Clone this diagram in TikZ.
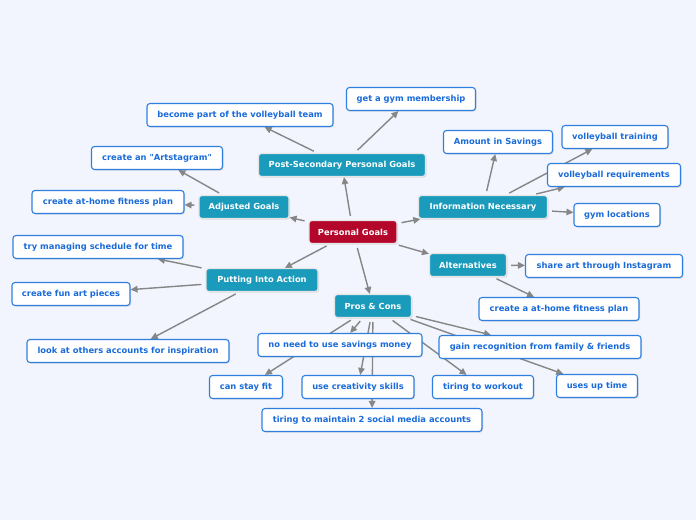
\documentclass[tikz,border=0pt]{standalone}
\usepackage{fontspec}
\newfontfamily\mfont{DejaVu Sans}
\usetikzlibrary{arrows.meta,shadows}
\pgfdeclarelayer{bg}
\pgfdeclarelayer{edges}
\pgfsetlayers{bg,edges,main}
\definecolor{bgc}{HTML}{F2F5FD}
\definecolor{mteal}{HTML}{1A9BBC}
\definecolor{mcrim}{HTML}{B4062B}
\definecolor{mblue}{HTML}{1A6BDA}
\definecolor{mborder}{HTML}{2F7FE0}
\definecolor{medge}{HTML}{868686}
\tikzset{
 base/.style={rounded corners=3pt, minimum height=23pt, inner sep=0pt,
   font=\mfont\bfseries\fontsize{8.35}{10}\selectfont, line width=1.1pt,
   drop shadow={shadow xshift=1pt, shadow yshift=-1.2pt, opacity=0.22}},
 leaf/.style={base, draw=mborder, fill=white, text=mblue},
 topic/.style={base, draw=white!80!gray, fill=mteal, text=white},
 rootnode/.style={base, draw=white!80!gray, fill=mcrim, text=white},
 link/.style={draw=medge, line width=1.4pt, -{Triangle[length=7pt,width=6.5pt]}, shorten <=4pt},
}
\begin{document}
\begin{tikzpicture}[x=1pt,y=-1pt]
\begin{pgfonlayer}{bg}
\fill[bgc] (0,0) rectangle (696,520);
\end{pgfonlayer}
% root and topics
\node[rootnode, minimum width=88pt] (pg) at (353,232) {Personal Goals};
\node[topic, minimum width=167pt] (ps) at (342,165) {Post-Secondary Personal Goals};
\node[topic, minimum width=90pt] (ag) at (244,207) {Adjusted Goals};
\node[topic, minimum width=112pt] (pia) at (262,280) {Putting Into Action};
\node[topic, minimum width=77pt] (pc) at (373,306) {Pros \& Cons};
\node[topic, minimum width=77pt] (alt) at (468,265) {Alternatives};
\node[topic, minimum width=129pt] (inf) at (483,207) {Information Necessary};
% leaves
\node[leaf, minimum width=186pt] (vbteam) at (240,115) {become part of the volleyball team};
\node[leaf, minimum width=129pt] (gym) at (411,99) {get a gym membership};
\node[leaf, minimum width=131pt] (artsta) at (157,158) {create an "Artstagram"};
\node[leaf, minimum width=152pt] (athome) at (108,202) {create at-home fitness plan};
\node[leaf, minimum width=170pt] (sched) at (98,247) {try managing schedule for time};
\node[leaf, minimum width=118pt] (funart) at (71,294) {create fun art pieces};
\node[leaf, minimum width=202pt] (look) at (128,351) {look at others accounts for inspiration};
\node[leaf, minimum width=164pt] (saving) at (340,345) {no need to use savings money};
\node[leaf, minimum width=73pt] (fit) at (246,387) {can stay fit};
\node[leaf, minimum width=112pt] (creat) at (358,387) {use creativity skills};
\node[leaf, minimum width=220pt] (social) at (372,420) {tiring to maintain 2 social media accounts};
\node[leaf, minimum width=101pt] (tiring) at (483,387) {tiring to workout};
\node[leaf, minimum width=202pt] (recog) at (540,347) {gain recognition from family \& friends};
\node[leaf, minimum width=81pt] (time) at (597,386) {uses up time};
\node[leaf, minimum width=160pt] (athome2) at (559,309) {create a at-home fitness plan};
\node[leaf, minimum width=157pt] (share) at (604,266) {share art through Instagram};
\node[leaf, minimum width=109pt] (amount) at (498,142) {Amount in Savings};
\node[leaf, minimum width=106pt] (vbtrain) at (615,137) {volleyball training};
\node[leaf, minimum width=133pt] (vbreq) at (614,175) {volleyball requirements};
\node[leaf, minimum width=86pt] (gymloc) at (617,215) {gym locations};
\begin{pgfonlayer}{edges}
\draw[link] (pg) -- (ps);
\draw[link] (pg) -- (ag);
\draw[link] (pg) -- (pia);
\draw[link] (pg) -- (pc);
\draw[link] (pg) -- (alt);
\draw[link] (pg) -- (inf);
\draw[link] (ps) -- (vbteam);
\draw[link] (ps) -- (gym);
\draw[link] (ag) -- (artsta);
\draw[link] (ag) -- (athome);
\draw[link] (pia) -- (sched);
\draw[link] (pia) -- (funart);
\draw[link] (pia) -- (look);
\draw[link] (pc) -- (saving);
\draw[link] (pc) -- (fit);
\draw[link] (pc) -- (creat);
\draw[link] (pc) -- (social);
\draw[link] (pc) -- (tiring);
\draw[link] (pc) -- (recog);
\draw[link] (pc) -- (time);
\draw[link] (alt) -- (share);
\draw[link] (alt) -- (athome2);
\draw[link] (inf) -- (amount);
\draw[link] (inf) -- (vbtrain);
\draw[link] (inf) -- (vbreq);
\draw[link] (inf) -- (gymloc);
\end{pgfonlayer}
\end{tikzpicture}
\end{document}
